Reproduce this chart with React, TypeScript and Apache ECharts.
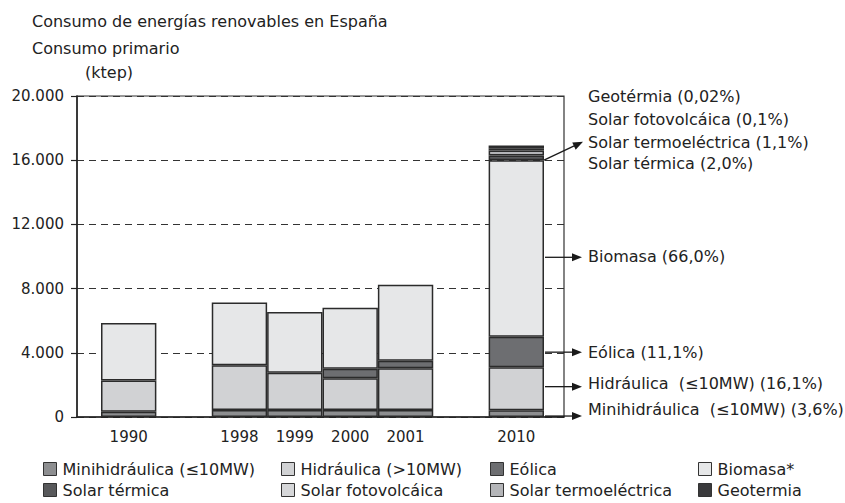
import React, { useEffect, useRef } from "react";
import * as echarts from "echarts";

const years = ["1990", "", "1998", "1999", "2000", "2001", "", "2010"];
const minihidraulica = [330, null, 440, 440, 440, 440, null, 420];
const hidraulica = [1950, null, 2790, 2310, 1980, 2600, null, 2680];
const eolica = [null, null, null, null, 580, 460, null, 1900];
const biomasa = [3570, null, 3910, 3790, 3810, 4740, null, 11000];
const solarTermica = [null, null, null, null, null, null, null, 300];
const solarTermoelectrica = [null, null, null, null, null, null, null, 300];
const solarFotovoltaica = [null, null, null, null, null, null, null, 120];
const geotermia = [null, null, null, null, null, null, null, 200];

const yMin = 0;
const yMax = 20000;
const yInterval = 4000;

const seriesNames = [
  "Minihidráulica (≤10MW)",
  "Hidráulica (>10MW)",
  "Eólica",
  "Biomasa*",
  "Solar térmica",
  "Solar termoeléctrica",
  "Solar fotovolcáica",
  "Geotermia",
];
const seriesData = [
  minihidraulica,
  hidraulica,
  eolica,
  biomasa,
  solarTermica,
  solarTermoelectrica,
  solarFotovoltaica,
  geotermia,
];
const seriesColors = [
  "#8d8e90",
  "#d1d2d4",
  "#6d6e71",
  "#e6e7e8",
  "#58595b",
  "#b4b5b8",
  "#d6d7d9",
  "#3a3a3c",
];

// right-side annotations for 2010 (label, arrow anchor value, text anchor value)
const sideLabels = [
  "Biomasa (66,0%)",
  "Eólica (11,1%)",
  "Hidráulica  (≤10MW) (16,1%)",
  "Minihidráulica  (≤10MW) (3,6%)",
];
const sideArrowValues = [9950, 4040, 1890, 60];
const sideTextValues = [9970, 4000, 2060, 440];

const topLabels = [
  "Geotérmia (0,02%)",
  "Solar fotovolcáica (0,1%)",
  "Solar termoeléctrica (1,1%)",
  "Solar térmica (2,0%)",
];
const topTextValues = [19970, 18540, 17120, 15800];
const topArrowFrom = 16000;
const topArrowTo = 17150;

const FONT = "DejaVu Sans";
const TEXT = "#222";

const legendPos = [
  { left: 43, top: 461 },
  { left: 281, top: 461 },
  { left: 490, top: 461 },
  { left: 698, top: 461 },
  { left: 43, top: 482 },
  { left: 490, top: 482 },
  { left: 281, top: 482 },
  { left: 698, top: 482 },
];

const fmt = (v: number) => String(v).replace(/\B(?=(\d{3})+(?!\d))/g, ".");

export default function App() {
  const ref = useRef<HTMLDivElement>(null);

  useEffect(() => {
    if (!ref.current) return;
    const chart = echarts.init(ref.current, null, { renderer: "svg" });

    const option: any = {
      animation: false,
      backgroundColor: "#fff",
      title: [
        { text: "Consumo de energías renovables en España", left: 32, top: 13 },
        { text: "Consumo primario", left: 32, top: 40 },
        { text: "(ktep)", left: 85, top: 64 },
      ].map((t) => ({
        ...t,
        padding: 0,
        textStyle: { fontSize: 16, fontWeight: "normal", fontFamily: FONT, color: TEXT },
      })),
      legend: seriesNames.map((name, i) => ({
        data: [name],
        left: legendPos[i].left,
        top: legendPos[i].top,
        padding: 0,
        icon: "rect",
        itemWidth: 13,
        itemHeight: 13,
        itemGap: 6,
        selectedMode: false,
        itemStyle: { borderColor: "#333", borderWidth: 1 },
        textStyle: { fontSize: 16, fontFamily: FONT, color: TEXT, padding: [0, 0, 0, 1] },
      })),
      grid: [
        {
          left: 77,
          right: 281,
          top: 96,
          bottom: 86,
          show: true,
          borderColor: "#333",
          borderWidth: 1.2,
          backgroundColor: "transparent",
        },
        { left: 101, right: 301, top: 96, bottom: 86 },
      ],
      xAxis: [
        {
          gridIndex: 0,
          type: "value",
          min: 0,
          max: 1,
          axisLabel: { show: false },
          axisTick: { show: false },
          splitLine: { show: false },
          axisLine: { show: true, lineStyle: { color: "#222", width: 1.5 } },
        },
        {
          gridIndex: 1,
          type: "category",
          data: years,
          boundaryGap: true,
          axisLine: { show: false },
          axisTick: { show: false },
          axisLabel: { fontSize: 15, fontFamily: FONT, color: TEXT, margin: 12, interval: 0 },
        },
      ],
      yAxis: [
        {
          gridIndex: 0,
          type: "value",
          min: yMin,
          max: yMax,
          interval: yInterval,
          axisLine: { show: true, lineStyle: { color: "#222", width: 1.5 } },
          axisTick: { show: true, length: 6, lineStyle: { color: "#222", width: 1.2 } },
          axisLabel: {
            fontSize: 15,
            fontFamily: FONT,
            color: TEXT,
            margin: 13,
            formatter: (v: number) => fmt(v),
          },
          splitLine: {
            show: true,
            lineStyle: { color: "#333", width: 1.2, type: [7, 5] },
          },
        },
        {
          gridIndex: 1,
          type: "value",
          min: yMin,
          max: yMax,
          interval: yInterval,
          show: false,
          splitLine: { show: false },
        },
      ],
      series: seriesNames.map((name, i) => ({
        name,
        type: "bar",
        stack: "total",
        xAxisIndex: 1,
        yAxisIndex: 1,
        barCategoryGap: "0%",
        data: seriesData[i],
        itemStyle: { color: seriesColors[i], borderColor: "#2b2b2b", borderWidth: 1.5 },
      })),
    };

    chart.setOption(option);

    const xOf = (v: string) => chart.convertToPixel({ xAxisIndex: 1 }, v) as number;
    const yOf = (v: number) => chart.convertToPixel({ yAxisIndex: 1 }, v) as number;
    const c2010 = xOf("2010");
    const c2001 = xOf("2001");
    const slot = (c2010 - c2001) / 2;
    const barRight = c2010 + slot / 2;
    const tipX = barRight + 38;
    const textX = tipX + 6;

    const graphics: any[] = [];
    const head = (tx: number, ty: number, angle: number) => {
      const len = 10;
      const w = 4;
      const bx = tx - len * Math.cos(angle);
      const by = ty - len * Math.sin(angle);
      const nx = -Math.sin(angle) * w;
      const ny = Math.cos(angle) * w;
      return {
        type: "polygon",
        z: 100,
        shape: { points: [[tx, ty], [bx + nx, by + ny], [bx - nx, by - ny]] },
        style: { fill: "#1a1a1a" },
      };
    };
    const arrow = (x1: number, y1: number, x2: number, y2: number) => {
      const a = Math.atan2(y2 - y1, x2 - x1);
      graphics.push({
        type: "line",
        z: 100,
        shape: { x1, y1, x2: x2 - 8 * Math.cos(a), y2: y2 - 8 * Math.sin(a) },
        style: { stroke: "#1a1a1a", lineWidth: 1.3 },
      });
      graphics.push(head(x2, y2, a));
    };

    sideLabels.forEach((label, i) => {
      const ay = yOf(sideArrowValues[i]);
      arrow(barRight + 1, ay, tipX, ay);
      graphics.push({
        type: "text",
        z: 100,
        x: textX,
        y: yOf(sideTextValues[i]),
        style: { text: label, fontSize: 16, fontFamily: FONT, fill: TEXT, verticalAlign: "middle" },
      });
    });
    topLabels.forEach((label, i) => {
      graphics.push({
        type: "text",
        z: 100,
        x: textX,
        y: yOf(topTextValues[i]),
        style: { text: label, fontSize: 16, fontFamily: FONT, fill: TEXT, verticalAlign: "middle" },
      });
    });
    arrow(barRight, yOf(topArrowFrom), tipX + 1, yOf(topArrowTo));

    chart.setOption({ graphic: graphics });

    return () => chart.dispose();
  }, []);

  return (
    <div
      ref={ref}
      style={{ position: "fixed", left: 0, top: 0, width: 845, height: 503, background: "#fff" }}
    />
  );
}
